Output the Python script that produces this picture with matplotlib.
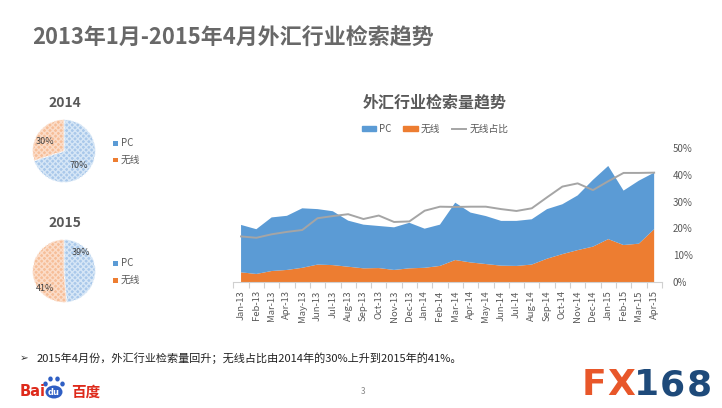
import matplotlib.pyplot as plt
import matplotlib.patches as mpatches
from matplotlib.lines import Line2D

plt.rcParams['font.family'] = ['Noto Sans CJK SC', 'DejaVu Sans']

months = ['Jan-13', 'Feb-13', 'Mar-13', 'Apr-13', 'May-13', 'Jun-13', 'Jul-13',
          'Aug-13', 'Sep-13', 'Oct-13', 'Nov-13', 'Dec-13', 'Jan-14', 'Feb-14',
          'Mar-14', 'Apr-14', 'May-14', 'Jun-14', 'Jul-14', 'Aug-14', 'Sep-14',
          'Oct-14', 'Nov-14', 'Dec-14', 'Jan-15', 'Feb-15', 'Mar-15', 'Apr-15']
wireless = [3.6, 3.0, 4.1, 4.5, 5.3, 6.5, 6.3, 5.7, 5.1, 5.2, 4.5, 5.1, 5.3, 6.0,
            8.2, 7.3, 6.7, 6.1, 6.0, 6.5, 8.7, 10.4, 11.9, 13.2, 16.0, 13.8, 14.3, 19.7]
pc = [17.7, 16.7, 20.0, 20.2, 22.2, 20.7, 20.1, 17.2, 16.3, 15.7, 15.9, 17.0, 14.6, 15.4,
      21.4, 18.6, 17.9, 16.7, 16.8, 16.9, 18.5, 18.6, 20.4, 24.9, 27.3, 20.3, 23.5, 21.1]
ratio = [17.0, 16.5, 17.8, 18.7, 19.4, 23.8, 24.6, 25.3, 23.5, 24.8, 22.4, 22.6, 26.6, 28.1,
         28.0, 28.1, 28.1, 27.2, 26.5, 27.5, 31.6, 35.6, 36.8, 34.3, 37.6, 40.7, 40.7, 40.8]
pct_ticks = [0, 10, 20, 30, 40, 50]

pie_years = ['2014', '2015']
pie_pc = [70, 39]
pie_wireless = [30, 41]
pie_names = ['PC', '无线']

W, H = 722, 408
BLUE = '#5B9BD5'
ORANGE = '#ED7D31'
GRAY_LINE = '#A5A5A5'
TXT = '#595959'

fig = plt.figure(figsize=(W / 100, H / 100), dpi=100)
fig.patch.set_facecolor('white')


def fx(px):
    return px / W


def fy(py):
    return 1 - py / H


fig.text(fx(32), fy(38), '2013年1月-2015年4月外汇行业检索趋势', fontsize=15.8,
         fontweight='bold', color='#686868', va='center', ha='left')

# small pies
pie_centers = [(64, 151), (64, 271)]
label_pos = [[(0.48, -0.45), (-0.6, 0.3)], [(0.55, 0.6), (-0.6, -0.55)]]
for k in range(2):
    cx, cy = pie_centers[k]
    r = 32
    pax = fig.add_axes([fx(cx - r), fy(cy + r), fx(2 * r), (2 * r) / H])
    vals = [pie_pc[k], pie_wireless[k]]
    wedges, _ = pax.pie(vals, colors=['#A9C8EA', '#F6BE98'], startangle=90,
                        counterclock=False, radius=1,
                        wedgeprops=dict(edgecolor='white', linewidth=0.8))
    over, _ = pax.pie(vals, colors=['none', 'none'], startangle=90,
                      counterclock=False, radius=1,
                      wedgeprops=dict(linewidth=0))
    over[0].set_hatch('xxxxxx')
    over[0].set_edgecolor('#D6E6F6')
    over[1].set_hatch('xxxxxx')
    over[1].set_edgecolor('#FBDCC8')
    for j in range(2):
        lx, ly = label_pos[k][j]
        pax.text(lx, ly, '%d%%' % vals[j], fontsize=6.5, color='#404040',
                 ha='center', va='center')
    pax.set_xlim(-1.02, 1.02)
    pax.set_ylim(-1.02, 1.02)
    pax.set_aspect('equal')
    pax.axis('off')
    fig.text(fx(65), fy(cy - 48), pie_years[k], fontsize=10, fontweight='bold',
             color='#595959', ha='center', va='center')
    for j, col in enumerate([BLUE, ORANGE]):
        yy = cy - 8 + j * 17
        fig.patches.append(mpatches.Rectangle((fx(113), fy(yy + 2.5)), fx(5), 5 / H,
                                              transform=fig.transFigure,
                                              facecolor=col, edgecolor='none'))
        fig.text(fx(121), fy(yy), pie_names[j], fontsize=7, color=TXT,
                 ha='left', va='center')

# main area chart
left, right = 233.4, 661.8
base, top = 282, 148
ax = fig.add_axes([fx(left), fy(base), fx(right - left), (base - top) / H])
x = list(range(len(months)))
ax.stackplot(x, wireless, pc, colors=[ORANGE, BLUE], linewidth=0)
ax.set_xlim(-0.5, len(months) - 0.5)
ax.set_ylim(0, 50)
ax.set_yticks([])
for s in ['top', 'right', 'left']:
    ax.spines[s].set_visible(False)
ax.spines['bottom'].set_color('#D0D0D0')
ax.spines['bottom'].set_linewidth(0.8)
ax.set_xticks(x)
ax.set_xticklabels(months, rotation=90, fontsize=6.8, color=TXT)
ax.tick_params(axis='x', which='major', length=0, pad=6)
ax.set_xticks([i - 0.5 for i in range(len(months) + 1)], minor=True)
ax.tick_params(axis='x', which='minor', length=4, color='#D0D0D0', width=0.8)

ax2 = ax.twinx()
ax2.plot(x, ratio, color=GRAY_LINE, linewidth=1.4)
ax2.set_ylim(0, 50)
ax2.set_yticks(pct_ticks)
ax2.set_yticklabels(['%d%%' % t for t in pct_ticks], fontsize=7, color=TXT)
ax2.tick_params(axis='y', length=0, pad=8)
for s in ['top', 'right', 'left', 'bottom']:
    ax2.spines[s].set_visible(False)

fig.text(fx(435), fy(103), '外汇行业检索量趋势', fontsize=11.5, fontweight='bold',
         color=TXT, ha='center', va='center')
handles = [mpatches.Patch(color=BLUE, label='PC'),
           mpatches.Patch(color=ORANGE, label='无线'),
           Line2D([], [], color=GRAY_LINE, linewidth=1.4, label='无线占比')]
fig.legend(handles=handles, loc='center', bbox_to_anchor=(fx(435), fy(129)),
           ncol=3, frameon=False, fontsize=7, labelcolor=TXT, handlelength=1.5,
           handleheight=0.55, handletextpad=0.3, columnspacing=1.2)

# footer
fig.text(fx(20), fy(358), '➢', fontsize=7.5, color='#333333', ha='left', va='center',
         family=['DejaVu Sans'])
fig.text(fx(37), fy(358), '2015年4月份，外汇行业检索量回升；无线占比由2014年的30%上升到2015年的41%。',
         fontsize=8, color='#222222', ha='left', va='center')
fig.text(fx(363), fy(391), '3', fontsize=6, color='#888888', ha='center', va='center')

# baidu logo
fig.text(fx(20), fy(392), 'Bai', fontsize=10.5, fontweight='bold', color='#DE2A1B',
         ha='left', va='center', family=['DejaVu Sans'])
fig.patches.append(mpatches.Ellipse((fx(54), fy(392)), fx(17), 13 / H,
                                    transform=fig.transFigure,
                                    facecolor='#2F5FC4', edgecolor='none'))
for tx, ty, tw in [(45.5, 384, 4.5), (50.5, 379, 4.5), (57.5, 379, 4.5), (62.5, 384, 4.5)]:
    fig.patches.append(mpatches.Ellipse((fx(tx), fy(ty)), fx(tw), 5 / H,
                                        transform=fig.transFigure,
                                        facecolor='#2F5FC4', edgecolor='none'))
fig.text(fx(54), fy(392.5), 'du', fontsize=6, fontweight='bold', color='white',
         ha='center', va='center', family=['DejaVu Sans'])
fig.text(fx(71), fy(392), '百度', fontsize=10.5, fontweight='bold', color='#DE2A1B',
         ha='left', va='center')

# fx168 logo
logo_chars = ['F', 'X', '1', '6', '8']
logo_x = [582, 607, 634, 660, 687]
logo_c = ['#E8572A', '#E8572A', '#1E4A7A', '#1E4A7A', '#1E4A7A']
for ch, px, col in zip(logo_chars, logo_x, logo_c):
    fig.text(fx(px), fy(385), ch, fontsize=26, fontweight='bold', color=col,
             ha='left', va='center', family=['DejaVu Sans'])

fig.savefig('out.png', dpi=100, facecolor='white')
